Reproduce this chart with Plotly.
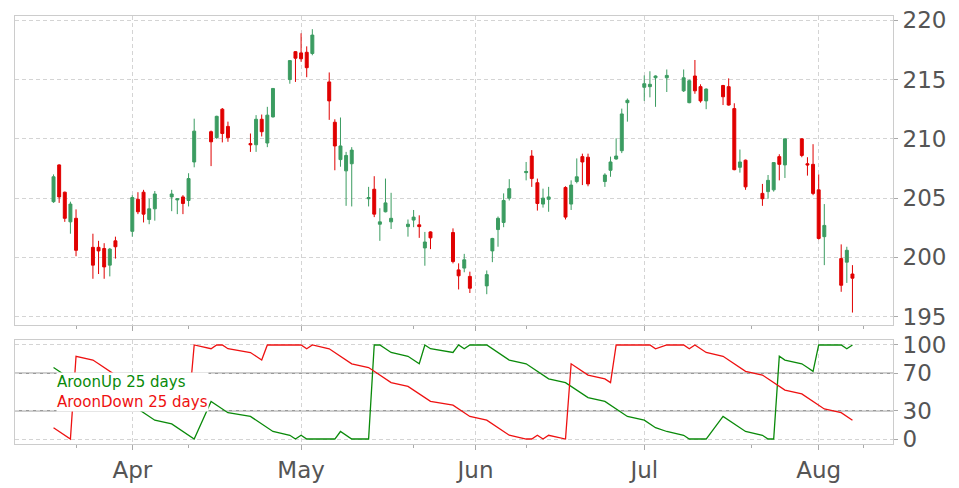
import plotly.graph_objects as go

dates = [
    "2019-03-18", "2019-03-19", "2019-03-20", "2019-03-21", "2019-03-22",
    "2019-03-25", "2019-03-26", "2019-03-27", "2019-03-28", "2019-03-29",
    "2019-04-01", "2019-04-02", "2019-04-03", "2019-04-04", "2019-04-05",
    "2019-04-08", "2019-04-09", "2019-04-10", "2019-04-11", "2019-04-12",
    "2019-04-15", "2019-04-16", "2019-04-17", "2019-04-18",
    "2019-04-22", "2019-04-23", "2019-04-24", "2019-04-25", "2019-04-26",
    "2019-04-29", "2019-04-30", "2019-05-01", "2019-05-02", "2019-05-03",
    "2019-05-06", "2019-05-07", "2019-05-08", "2019-05-09", "2019-05-10",
    "2019-05-13", "2019-05-14", "2019-05-15", "2019-05-16", "2019-05-17",
    "2019-05-20", "2019-05-21", "2019-05-22", "2019-05-23", "2019-05-24",
    "2019-05-28", "2019-05-29", "2019-05-30", "2019-05-31",
    "2019-06-03", "2019-06-04", "2019-06-05", "2019-06-06", "2019-06-07",
    "2019-06-10", "2019-06-11", "2019-06-12", "2019-06-13", "2019-06-14",
    "2019-06-17", "2019-06-18", "2019-06-19", "2019-06-20", "2019-06-21",
    "2019-06-24", "2019-06-25", "2019-06-26", "2019-06-27", "2019-06-28",
    "2019-07-01", "2019-07-02", "2019-07-03", "2019-07-05",
    "2019-07-08", "2019-07-09", "2019-07-10", "2019-07-11", "2019-07-12",
    "2019-07-15", "2019-07-16", "2019-07-17", "2019-07-18", "2019-07-19",
    "2019-07-22", "2019-07-23", "2019-07-24", "2019-07-25", "2019-07-26",
    "2019-07-29", "2019-07-30", "2019-07-31", "2019-08-01", "2019-08-02",
    "2019-08-05", "2019-08-06", "2019-08-07",
]

opens = [
    204.7, 207.8, 205.5, 203.0, 203.3,
    200.85, 200.85, 200.75, 199.35, 201.4,
    202.2, 204.9, 205.5, 203.2, 204.1,
    205.1, 204.85, 205.1, 204.8, 208.05,
    210.6, 210.1, 212.5, 211.05,
    209.6, 209.5, 211.65, 209.65, 211.85,
    215.0, 217.35, 217.25, 217.3, 217.2,
    214.8, 211.4, 208.25, 207.3, 207.9,
    204.95, 205.75, 202.8, 203.85, 203.0,
    202.6, 203.15, 202.75, 200.8, 202.15,
    202.1, 198.95, 199.1, 198.4,
    197.6, 200.55, 202.35, 202.95, 205.0,
    207.15, 208.55, 206.3, 204.5, 204.9,
    205.9, 204.5, 206.4, 208.5, 208.45,
    206.4, 207.35, 208.3, 209.0, 213.05,
    214.35, 214.4, 215.15, 215.15,
    214.05, 213.05, 215.3, 214.4, 213.2,
    214.5, 214.4, 212.55, 207.6, 208.2,
    205.4, 205.55, 205.7, 208.5, 207.8,
    210.0, 207.9, 207.85, 205.7, 201.75,
    199.9, 199.6, 198.6,
]

highs = [
    207.0, 207.85, 205.55, 204.7, 204.05,
    202.0, 201.4, 201.2, 200.8, 201.75,
    205.25, 205.5, 205.7, 204.95, 205.6,
    205.7, 205.0, 205.25, 207.1, 211.7,
    210.7, 211.95, 212.6, 211.45,
    210.45, 212.0, 212.05, 212.7, 214.25,
    216.6, 217.4, 218.9, 217.8, 219.25,
    215.6, 211.65, 211.8, 208.9, 209.3,
    205.95, 206.85, 204.15, 206.65, 205.45,
    203.2, 204.0, 203.55, 202.15, 202.2,
    202.45, 199.5, 200.3, 198.8,
    198.9, 201.65, 203.45, 205.4, 206.6,
    208.05, 209.05, 206.65, 205.8, 205.95,
    206.0, 206.5, 208.35, 208.75, 208.75,
    207.1, 208.5, 210.05, 212.55, 213.4,
    215.35, 215.7, 215.35, 215.85,
    215.85, 215.0, 216.65, 214.6, 214.25,
    214.55, 215.1, 213.0, 209.1, 208.25,
    206.2, 206.95, 208.0, 208.7, 210.0,
    210.05, 208.45, 209.55, 207.0, 204.5,
    201.1, 200.9, 199.35,
]

lows = [
    204.6, 204.6, 203.0, 202.0, 200.1,
    198.2, 198.6, 198.2, 198.4, 199.9,
    201.75, 203.65, 202.95, 202.8, 203.1,
    203.9, 203.65, 203.65, 204.3, 207.6,
    207.7, 210.0, 209.7, 209.75,
    208.9, 208.9, 210.2, 209.3, 211.8,
    214.65, 214.8, 216.5, 215.2, 217.05,
    211.6, 207.35, 207.65, 204.35, 204.3,
    204.3, 203.4, 201.4, 203.8, 202.4,
    201.75, 202.55, 201.65, 199.3, 200.7,
    199.5, 197.3, 198.75, 197.0,
    196.9, 199.6, 200.9, 202.55, 204.8,
    206.5, 205.95, 203.95, 204.2, 203.85,
    203.2, 204.0, 206.25, 206.1, 206.0,
    205.95, 206.8, 208.25, 208.8, 211.45,
    213.2, 213.5, 212.7, 213.95,
    213.95, 213.0, 213.8, 213.05, 212.5,
    212.85, 212.8, 207.35, 207.15, 205.7,
    204.35, 204.95, 205.55, 206.5, 206.7,
    208.45, 206.9, 205.25, 201.5, 199.35,
    197.1, 197.85, 195.35,
]

closes = [
    206.8, 205.1, 203.3, 204.5, 200.6,
    199.35, 200.55, 199.2, 200.7, 200.9,
    205.05, 203.85, 203.65, 204.1, 205.35,
    205.35, 204.95, 204.55, 206.65, 210.65,
    209.75, 211.9, 210.45, 210.1,
    209.5, 211.65, 210.6, 212.0, 214.25,
    216.6, 216.8, 216.75, 216.0, 218.75,
    213.2, 209.4, 209.4, 208.6, 209.05,
    205.05, 203.65, 203.0, 204.6, 203.3,
    202.8, 203.4, 202.6, 201.3, 201.65,
    199.65, 198.45, 199.8, 197.4,
    198.55, 201.6, 203.3, 204.8, 205.8,
    207.25, 206.65, 204.55, 205.0, 205.1,
    203.4, 206.1, 206.8, 208.05, 206.2,
    206.95, 208.05, 208.55, 212.1, 213.25,
    214.65, 214.6, 215.3, 215.35,
    215.15, 214.9, 214.05, 213.2, 214.2,
    213.55, 212.85, 207.4, 208.05, 205.95,
    204.95, 206.5, 208.0, 207.85, 210.0,
    208.6, 207.8, 205.4, 201.6, 202.7,
    197.65, 200.6, 198.25,
]

aroon_up = [
    76, 72, 68, 64, 60,
    56, 52, 48, 44, 40,
    36, 32, 28, 24, 20,
    16, 12, 8, 4, 0,
    40, 36, 32, 28,
    24, 20, 16, 12, 8,
    4, 0, 4, 0, 0,
    0, 0, 8, 4, 0,
    0, 100, 100, 96, 92,
    88, 84, 80, 100, 96,
    92, 100, 96, 100,
    100, 96, 92, 88, 84,
    80, 76, 72, 68, 64,
    60, 56, 52, 48, 44,
    40, 36, 32, 28, 24,
    20, 16, 12, 8,
    4, 0, 0, 0, 0,
    24, 20, 16, 12, 8,
    4, 0, 0, 88, 84,
    80, 76, 72, 100, 100,
    100, 96, 100,
]

aroon_down = [
    12, 8, 4, 0, 88,
    84, 80, 76, 72, 68,
    64, 60, 56, 52, 48,
    44, 40, 36, 32, 100,
    96, 100, 100, 96,
    92, 88, 84, 100, 100,
    100, 100, 100, 96, 100,
    96, 92, 88, 84, 80,
    76, 72, 68, 64, 60,
    56, 52, 48, 44, 40,
    36, 32, 28, 24,
    20, 16, 12, 8, 4,
    0, 0, 4, 0, 4,
    0, 80, 76, 72, 68,
    64, 60, 100, 100, 100,
    100, 100, 96, 100,
    100, 96, 100, 96, 92,
    88, 84, 80, 76, 72,
    68, 64, 60, 56, 52,
    48, 44, 40, 36, 32,
    28, 24, 20,
]

month_ticks = ["2019-04-01", "2019-05-01", "2019-06-01", "2019-07-01", "2019-08-01"]
month_labels = ["Apr", "May", "Jun", "Jul", "Aug"]
minor_ticks = ["2019-03-22", "2019-04-11", "2019-05-21", "2019-06-10", "2019-07-20", "2019-08-09"]
price_ticks = [195, 200, 205, 210, 215, 220]
aroon_ticks = [0, 30, 70, 100]
aroon_levels = [30, 70]
label_up = "AroonUp 25 days"
label_down = "AroonDown 25 days"

GREEN = "#3b9c61"
RED = "#e00000"
UPLINE = "#0a8a0a"
DNLINE = "#ee1111"
TICKCOL = "#555555"
FRAME = "#cccccc"
GRID = "#d4d4d4"
FONT = "DejaVu Sans"

x_range = ["2019-03-11 03:36", "2019-08-14 05:00"]

fig = go.Figure()

fig.add_trace(go.Candlestick(
    x=dates, open=opens, high=highs, low=lows, close=closes,
    increasing=dict(line=dict(color=GREEN, width=1), fillcolor=GREEN),
    decreasing=dict(line=dict(color=RED, width=1), fillcolor=RED),
    whiskerwidth=0, xaxis="x", yaxis="y", showlegend=False, hoverinfo="skip",
))

fig.add_trace(go.Scatter(
    x=dates, y=aroon_up, mode="lines", line=dict(color=UPLINE, width=1.3),
    xaxis="x2", yaxis="y2", showlegend=False,
))
fig.add_trace(go.Scatter(
    x=dates, y=aroon_down, mode="lines", line=dict(color=DNLINE, width=1.3),
    xaxis="x2", yaxis="y2", showlegend=False,
))

for lv in aroon_levels:
    fig.add_shape(type="line", xref="x2 domain", yref="y2", x0=0, x1=1, y0=lv, y1=lv,
                  line=dict(color="#9a9a9a", width=1.5), layer="below")

common_x = dict(
    type="date", range=x_range, tickmode="array", tickvals=month_ticks,
    showgrid=True, gridcolor=GRID, griddash="4px,3px", gridwidth=1,
    showline=True, linecolor=FRAME, linewidth=1, mirror=True,
    ticks="outside", ticklen=5, tickcolor="#aaaaaa", tickwidth=1,
    zeroline=False, automargin=False,
    minor=dict(tickmode="array", tickvals=minor_ticks, ticks="outside", ticklen=3,
               tickcolor="#aaaaaa", showgrid=False),
    rangeslider=dict(visible=False),
)

common_y = dict(
    side="right", tickmode="array",
    showgrid=True, gridcolor=GRID, griddash="4px,3px",
    showline=True, linecolor=FRAME, mirror=True,
    ticks="outside", ticklen=4, tickcolor="#aaaaaa",
    tickfont=dict(family=FONT, size=23, color=TICKCOL),
    ticklabeloverflow="allow",
    zeroline=False, automargin=False,
)

# page body has an 8px default margin, so the figure is 8px smaller than the window
fig.update_layout(
    width=951, height=480,
    margin=dict(l=7, r=66, t=8, b=44),
    paper_bgcolor="white", plot_bgcolor="white",
    font=dict(family=FONT, size=23, color=TICKCOL),
    boxgap=0.25,
    xaxis=dict(common_x, domain=[0, 1], anchor="y", showticklabels=False),
    xaxis2=dict(common_x, domain=[0, 1], anchor="y2", matches="x",
                ticktext=month_labels, showticklabels=True,
                ticklabeloverflow="allow",
                tickfont=dict(family=FONT, size=23, color=TICKCOL)),
    yaxis=dict(common_y, domain=[0.278, 1], range=[194.3, 220.36],
               tickvals=price_ticks, anchor="x"),
    yaxis2=dict(common_y, domain=[0, 0.243], range=[-5.3, 105.3],
                tickvals=aroon_ticks, anchor="x2"),
    showlegend=False,
)

fig.add_annotation(
    x=0.0465, xref="paper", y=49.6, yref="y2",
    text=(f"<span style='color:{UPLINE}'>{label_up}</span><br>"
          f"<span style='color:{DNLINE}'>{label_down}</span>"),
    showarrow=False, xanchor="left", yanchor="middle", align="left",
    font=dict(family=FONT, size=15, color=UPLINE),
    bgcolor="white", borderpad=0,
)

fig.write_html("out.html")
